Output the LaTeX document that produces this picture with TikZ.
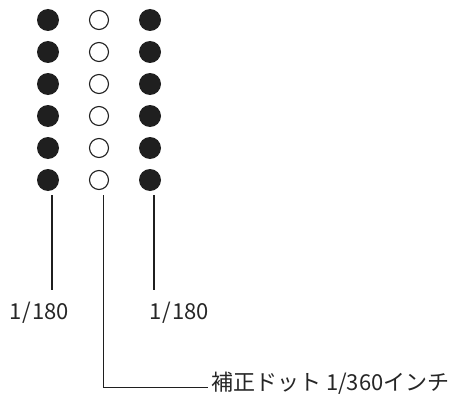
\documentclass[tikz,border=0pt]{standalone}
\usepackage{fontspec}
\newfontfamily\jp{Noto Sans CJK JP}
\begin{document}
\begin{tikzpicture}[x=1pt,y=-1pt,
  fdot/.style={circle,fill=black!88,minimum size=22pt,inner sep=0pt},
  odot/.style={circle,draw=black!88,line width=1.1pt,fill=white,minimum size=19pt,inner sep=0pt},
  thick line/.style={line width=2.5pt,black!88},
  thin line/.style={line width=1pt,black!88},
  lbl/.style={font=\jp\fontsize{22}{25}\selectfont,text=black!85,inner sep=0pt}]
\useasboundingbox (0,0) rectangle (452,396);
\foreach \i/\y in {1/20,2/52,3/84,4/116,5/148,6/180}{
  \node[fdot] (l\i) at (48,\y) {};
  \node[odot] (m\i) at (99,\y) {};
  \node[fdot] (r\i) at (150,\y) {};
}
\coordinate (la) at (52,195);
\coordinate (lb) at (52,290);
\coordinate (ra) at (154,195);
\coordinate (rb) at (154,290);
\coordinate (ma) at (103,195);
\coordinate (mb) at (103,387);
\coordinate (mc) at (208,387);
\draw[thick line] (la) -- (lb);
\draw[thick line] (ra) -- (rb);
\draw[thin line] (ma) -- (mb) -- (mc);
\node[lbl,anchor=west] (t1) at (9,313) {1\kern1pt/\kern1pt180};
\node[lbl,anchor=west] (t2) at (149,313) {1\kern1pt/\kern1pt180};
\node[lbl,anchor=west] (t3) at (211,383) {補正ドット 1/360インチ};
\end{tikzpicture}
\end{document}
